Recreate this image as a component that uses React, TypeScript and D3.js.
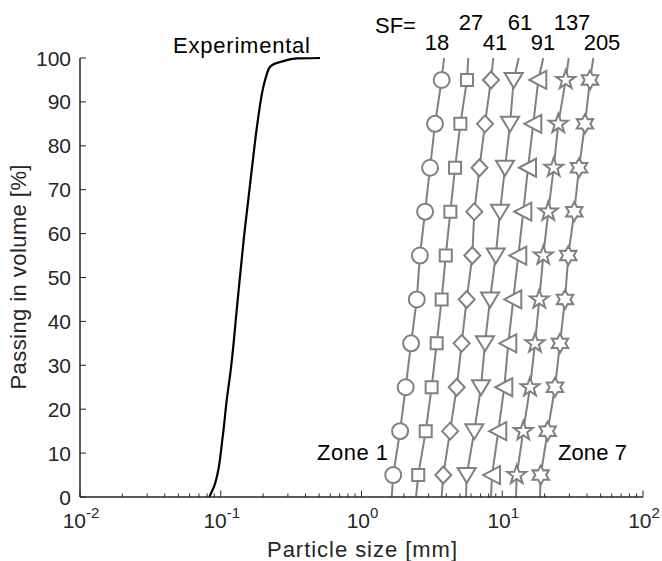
import React from "react";
import * as d3 from "d3";

const levels = [0, 5, 15, 25, 35, 45, 55, 65, 75, 85, 95, 100];
const zone1 = [1.64, 1.68, 1.88, 2.06, 2.25, 2.47, 2.6, 2.83, 3.07, 3.33, 3.71, 3.86];
const zone2 = [2.44, 2.53, 2.86, 3.15, 3.42, 3.71, 3.97, 4.28, 4.62, 5.04, 5.62, 5.74];
const zone3 = [3.71, 3.81, 4.26, 4.75, 5.15, 5.59, 6.13, 6.33, 6.89, 7.54, 8.32, 8.64];
const zone4 = [5.53, 5.59, 6.33, 7.06, 7.54, 8.19, 8.99, 9.64, 10.46, 11.36, 12.06, 13.09];
const zone5 = [8.32, 8.46, 9.37, 10.34, 11.04, 11.98, 13.0, 14.11, 15.24, 16.62, 18.04, 19.57];
const zone6 = [12.52, 12.67, 14.11, 15.75, 17.09, 18.33, 19.57, 21.24, 23.21, 25.01, 28.24, 29.66];
const zone7 = [18.55, 18.76, 21.03, 23.7, 25.72, 27.92, 29.47, 32.5, 35.11, 38.71, 42.02, 44.36];
const zoneMarkers = ["circle", "square", "diamond", "triDown", "triLeft", "pentagram", "hexagram"];
const sfTop = ["27", "61", "137"];
const sfBottom = ["18", "41", "91", "205"];

const expSize = [0.0829, 0.091, 0.1032, 0.1102, 0.1177, 0.1312, 0.1463, 0.166, 0.1849, 0.1986, 0.2097, 0.2239, 0.2783, 0.3464, 0.5073];
const expPass = [0, 3, 13.7, 22, 28.9, 44.1, 59.3, 74.5, 86.6, 92.7, 95.7, 98, 99.3, 99.9, 100];

const yTicks = [0, 10, 20, 30, 40, 50, 60, 70, 80, 90, 100];
const xMajor = [0.01, 0.1, 1, 10, 100];
const xExp = ["-2", "-1", "0", "1", "2"];

const FONT = "'Liberation Sans', Arial, Helvetica, sans-serif";
const GRAY = "#808080";
const AX = "#262626";

function starPath(n: number, ro: number, ri: number) {
  const pts: string[] = [];
  for (let i = 0; i < 2 * n; i++) {
    const r = i % 2 === 0 ? ro : ri;
    const a = -Math.PI / 2 + (i * Math.PI) / n;
    pts.push(`${(r * Math.cos(a)).toFixed(2)},${(r * Math.sin(a)).toFixed(2)}`);
  }
  return "M" + pts.join("L") + "Z";
}

function markerPath(kind: string) {
  switch (kind) {
    case "circle":
      return "M8,0A8,8 0 1,1 -8,0A8,8 0 1,1 8,0Z";
    case "square":
      return "M-6,-6H6V6H-6Z";
    case "diamond":
      return "M0,-8.5L8,0L0,8.5L-8,0Z";
    case "triDown":
      return "M-9,-7L9,-7L0,8Z";
    case "triLeft":
      return "M-9,0L8,-9L8,9Z";
    case "pentagram":
      return starPath(5, 10, 4);
    case "hexagram":
    default:
      return starPath(6, 9.5, 5.4);
  }
}

export default function App() {
  const x = d3.scaleLog().domain([0.01, 100]).range([80, 643]);
  const y = d3.scaleLinear().domain([0, 100]).range([497, 58]);
  const zones = [zone1, zone2, zone3, zone4, zone5, zone6, zone7];

  const line = d3
    .line<[number, number]>()
    .x((d) => x(d[0]))
    .y((d) => y(d[1]));

  const expLine = d3
    .line<[number, number]>()
    .x((d) => x(d[0]))
    .y((d) => y(d[1]))
    .curve(d3.curveMonotoneY);

  const minor: number[] = [];
  for (let e = -2; e < 2; e++) {
    for (let k = 2; k <= 9; k++) minor.push(k * Math.pow(10, e));
  }

  const expData = expSize.map((s, i) => [s, expPass[i]] as [number, number]);

  return (
    <svg
      width={662}
      height={561}
      style={{ position: "absolute", left: 0, top: 0, background: "#fff" }}
      fontFamily={FONT}
    >
      <rect width={662} height={561} fill="#fff" />

      {zones.map((z, zi) => {
        const pts = z.map((v, i) => [v, levels[i]] as [number, number]);
        return (
          <g key={zi}>
            <path d={line(pts) || ""} fill="none" stroke={GRAY} strokeWidth={2} />
            {pts
              .filter((p) => p[1] > 0 && p[1] < 100)
              .map((p, i) => (
                <path
                  key={i}
                  d={markerPath(zoneMarkers[zi])}
                  transform={`translate(${x(p[0])},${y(p[1])})`}
                  fill="#fff"
                  stroke={GRAY}
                  strokeWidth={2}
                />
              ))}
          </g>
        );
      })}

      <path d={expLine(expData) || ""} fill="none" stroke="#000" strokeWidth={2.2} />

      <line x1={80} x2={80} y1={y(100)} y2={y(0)} stroke={AX} strokeWidth={1.5} />
      <line x1={80} x2={643} y1={y(0)} y2={y(0)} stroke={AX} strokeWidth={1.5} />
      {yTicks.map((t) => (
        <g key={t}>
          <line x1={80} x2={86} y1={y(t)} y2={y(t)} stroke={AX} strokeWidth={1} />
          <text x={71} y={y(t)} dy="0.36em" textAnchor="end" fontSize={21} fill="#262626">
            {t}
          </text>
        </g>
      ))}
      {xMajor.map((t, i) => (
        <g key={t}>
          <line x1={x(t)} x2={x(t)} y1={y(0)} y2={y(0) - 6.5} stroke={AX} strokeWidth={1} />
          <text x={x(t) + 1} y={528} textAnchor="middle" fontSize={21} fill="#262626">
            10
            <tspan dy={-10} fontSize={15}>
              {xExp[i]}
            </tspan>
          </text>
        </g>
      ))}
      {minor.map((t, i) => (
        <line key={i} x1={x(t)} x2={x(t)} y1={y(0)} y2={y(0) - 3.5} stroke={AX} strokeWidth={1} />
      ))}

      <text x={362} y={557} textAnchor="middle" fontSize={22} textLength={190} lengthAdjust="spacing" fill="#262626">
        Particle size [mm]
      </text>
      <text
        transform="translate(26,277) rotate(-90)"
        textAnchor="middle"
        fontSize={22}
        textLength={225}
        lengthAdjust="spacing"
        fill="#262626"
      >
        Passing in volume [%]
      </text>

      <text x={173} y={53} fontSize={22} textLength={137} lengthAdjust="spacing" fill="#000">
        Experimental
      </text>
      <text x={375} y={33} fontSize={22} fill="#000">
        SF=
      </text>
      {sfTop.map((s, i) => (
        <text key={s} x={[471, 520, 572][i]} y={30} textAnchor="middle" fontSize={22} fill="#000">
          {s}
        </text>
      ))}
      {sfBottom.map((s, i) => (
        <text key={s} x={[437, 495, 543, 602][i]} y={50} textAnchor="middle" fontSize={22} fill="#000">
          {s}
        </text>
      ))}
      <text x={317} y={460} fontSize={22} textLength={71} lengthAdjust="spacing" fill="#000">
        Zone 1
      </text>
      <text x={558} y={460} fontSize={22} textLength={69} lengthAdjust="spacing" fill="#000">
        Zone 7
      </text>
    </svg>
  );
}
